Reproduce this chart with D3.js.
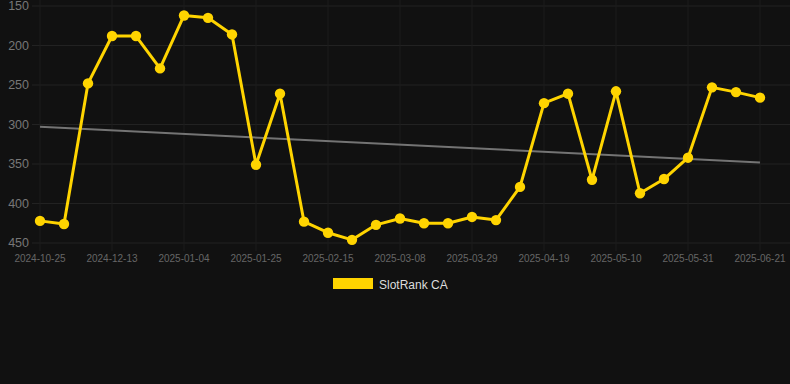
<!DOCTYPE html>
<html><head><meta charset="utf-8">
<script src="https://cdn.jsdelivr.net/npm/d3@7"></script>
<style>
html,body{margin:0;padding:0;background:#111111;}
svg{display:block;}
text{font-family:"Liberation Sans",Arial,Helvetica,sans-serif;}
</style></head>
<body>
<svg id="chart" width="790" height="384"></svg>
<script>
const categories = ["2024-10-25","2024-11-10","2024-11-27","2024-12-13","2024-12-20","2024-12-27",
  "2025-01-04","2025-01-11","2025-01-18","2025-01-25","2025-02-01","2025-02-08","2025-02-15",
  "2025-02-22","2025-03-01","2025-03-08","2025-03-15","2025-03-22","2025-03-29","2025-04-05",
  "2025-04-12","2025-04-19","2025-04-26","2025-05-03","2025-05-10","2025-05-17","2025-05-24",
  "2025-05-31","2025-06-07","2025-06-14","2025-06-21"];
const rankValues = [422,426,248,188,188,229,162,165,186,351,261,423,437,446,427,419,425,425,417,421,379,
  273,261,370,258,387,369,342,253,259,266];
const trendValues = [303,348];
const yTicks = [150,200,250,300,350,400,450];
const seriesName = "SlotRank CA";

const svg = d3.select("#chart");
const x = d3.scalePoint().domain(categories).range([40,760]);
const y = d3.scaleLinear().domain([150,450]).range([6,243]);

const grid = svg.append("g");
grid.selectAll("line.h").data(yTicks).enter().append("line")
  .attr("x1",32).attr("x2",790).attr("y1",d=>y(d)).attr("y2",d=>y(d))
  .attr("stroke","#222222").attr("stroke-width",1);
const shownCats = categories.filter((d,i)=>i%3===0);
grid.selectAll("line.v").data(shownCats).enter().append("line")
  .attr("x1",d=>x(d)).attr("x2",d=>x(d)).attr("y1",0).attr("y2",251)
  .attr("stroke","#1d1d1d").attr("stroke-width",1);

svg.append("g").selectAll("text").data(yTicks).enter().append("text")
  .attr("x",29).attr("y",d=>y(d)).attr("dy","0.35em").attr("text-anchor","end")
  .attr("font-size",12.5).attr("fill","#777777").text(d=>d);

svg.append("g").selectAll("text").data(shownCats).enter().append("text")
  .attr("x",d=>x(d)).attr("y",262).attr("text-anchor","middle")
  .attr("font-size",10).attr("fill","#666666").text(d=>d);

// trend line
svg.append("line")
  .attr("x1",x(categories[0])).attr("x2",x(categories[categories.length-1]))
  .attr("y1",y(trendValues[0])).attr("y2",y(trendValues[1]))
  .attr("stroke","#747474").attr("stroke-width",2);

const line = d3.line().x((d,i)=>x(categories[i])).y(d=>y(d));
svg.append("path").datum(rankValues).attr("d",line)
  .attr("fill","none").attr("stroke","#FFD400").attr("stroke-width",3).attr("stroke-linejoin","round");
svg.append("g").selectAll("circle").data(rankValues).enter().append("circle")
  .attr("cx",(d,i)=>x(categories[i])).attr("cy",d=>y(d)).attr("r",5.2).attr("fill","#FFD400");

// legend
svg.append("rect").attr("x",333).attr("y",278).attr("width",40).attr("height",11).attr("fill","#FFD400");
svg.append("text").attr("x",379).attr("y",288.5).attr("font-size",12).attr("fill","#dddddd").text(seriesName);
</script>
</body></html>
